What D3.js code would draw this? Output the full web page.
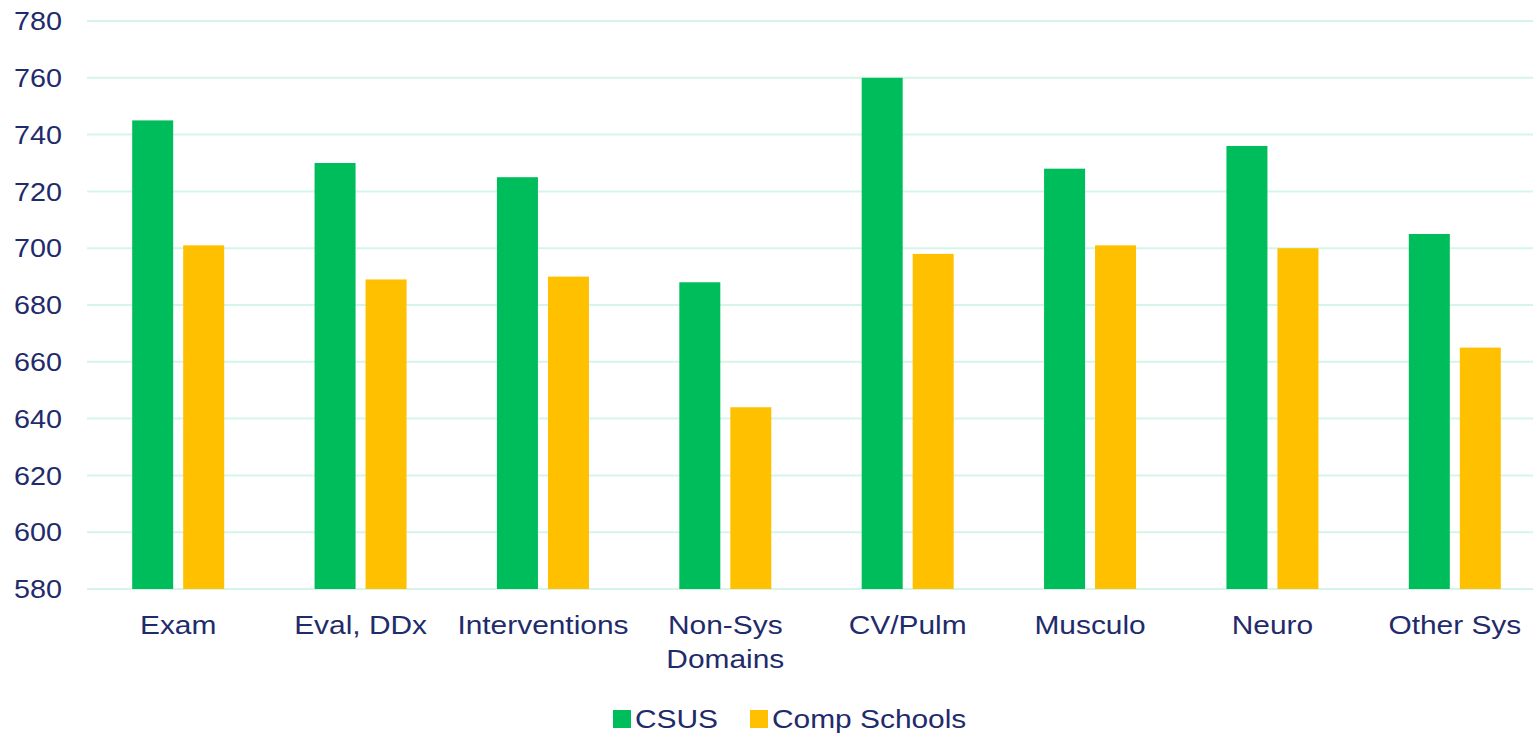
<!DOCTYPE html>
<html><head><meta charset="utf-8">
<script src="https://cdn.jsdelivr.net/npm/d3@7"></script>
<style>body{margin:0;background:#fff}svg{display:block}text{font-family:"Liberation Sans",Arial,sans-serif;fill:#1f2b6b}</style>
</head><body><svg id="c" width="1533" height="736"></svg>
<script>
const categories = ["Exam","Eval, DDx","Interventions","Non-Sys\nDomains","CV/Pulm","Musculo","Neuro","Other Sys"];
const seriesNames = ["CSUS","Comp Schools"];
const csus = [745,730,725,688,760,728,736,705];
const comp = [701,689,690,644,698,701,700,665];
const yTicks = [580,600,620,640,660,680,700,720,740,760,780];
const colors = ["#00bd5c","#ffc000"];

const svg = d3.select("#c");
const x0 = 87, x1 = 1546, yTop = 21, yBot = 589;
const x = d3.scaleBand().domain(categories).range([x0,x1]);
const xs = d3.scaleBand().domain(seriesNames).range([0,x.bandwidth()]).paddingInner(0.196).paddingOuter(0.5*((x.bandwidth()-92)/46));
const y = d3.scaleLinear().domain([580,780]).range([yBot,yTop]);
const sx = 1.15;

// gridlines
svg.append("g").selectAll("line").data(yTicks).join("line")
  .attr("x1",x0).attr("x2",x1).attr("y1",d=>y(d)).attr("y2",d=>y(d))
  .attr("stroke","#d6f5e9").attr("stroke-width",2);

// y axis labels
const yAxis = d3.axisLeft(y).tickValues(yTicks).tickSize(0).tickPadding(0);
const ya = svg.append("g").attr("transform","translate(0,0)").call(yAxis);
ya.select(".domain").remove();
ya.selectAll("text").attr("font-size",25).attr("x",0).attr("dy","0.35em")
  .attr("text-anchor","end")
  .attr("transform",d=>`translate(62,0) scale(${sx},1)`);

// bars
const data = categories.map((c,i)=>({c, vals:[{s:seriesNames[0],v:csus[i]},{s:seriesNames[1],v:comp[i]}]}));
const bw = 41, gap = 10;
const g = svg.append("g").selectAll("g").data(data).join("g")
  .attr("transform",d=>`translate(${x(d.c)+x.bandwidth()/2},0)`);
g.selectAll("rect").data(d=>d.vals).join("rect")
  .attr("x",(d,i)=> i===0 ? -gap/2-bw : gap/2)
  .attr("width",bw)
  .attr("y",d=>y(d.v)).attr("height",d=>yBot-y(d.v))
  .attr("fill",(d,i)=>colors[i]);

// x labels
const xl = svg.append("g").selectAll("text").data(categories).join("text")
  .attr("font-size",26).attr("text-anchor","middle")
  .attr("transform",d=>`translate(${x(d)+x.bandwidth()/2},634) scale(${sx},1)`);
xl.selectAll("tspan").data(d=>d.split("\n")).join("tspan")
  .attr("x",0).attr("dy",(d,i)=>i===0?0:34).text(d=>d);

// legend
const leg = [{n:seriesNames[0],c:colors[0],x:613},{n:seriesNames[1],c:colors[1],x:750}];
const lg = svg.append("g").selectAll("g").data(leg).join("g").attr("transform",d=>`translate(${d.x},710)`);
lg.append("rect").attr("width",18).attr("height",18).attr("fill",d=>d.c);
lg.append("text").attr("font-size",26).attr("y",18).attr("transform",`translate(22,0) scale(${sx},1)`).text(d=>d.n);
</script></body></html>
